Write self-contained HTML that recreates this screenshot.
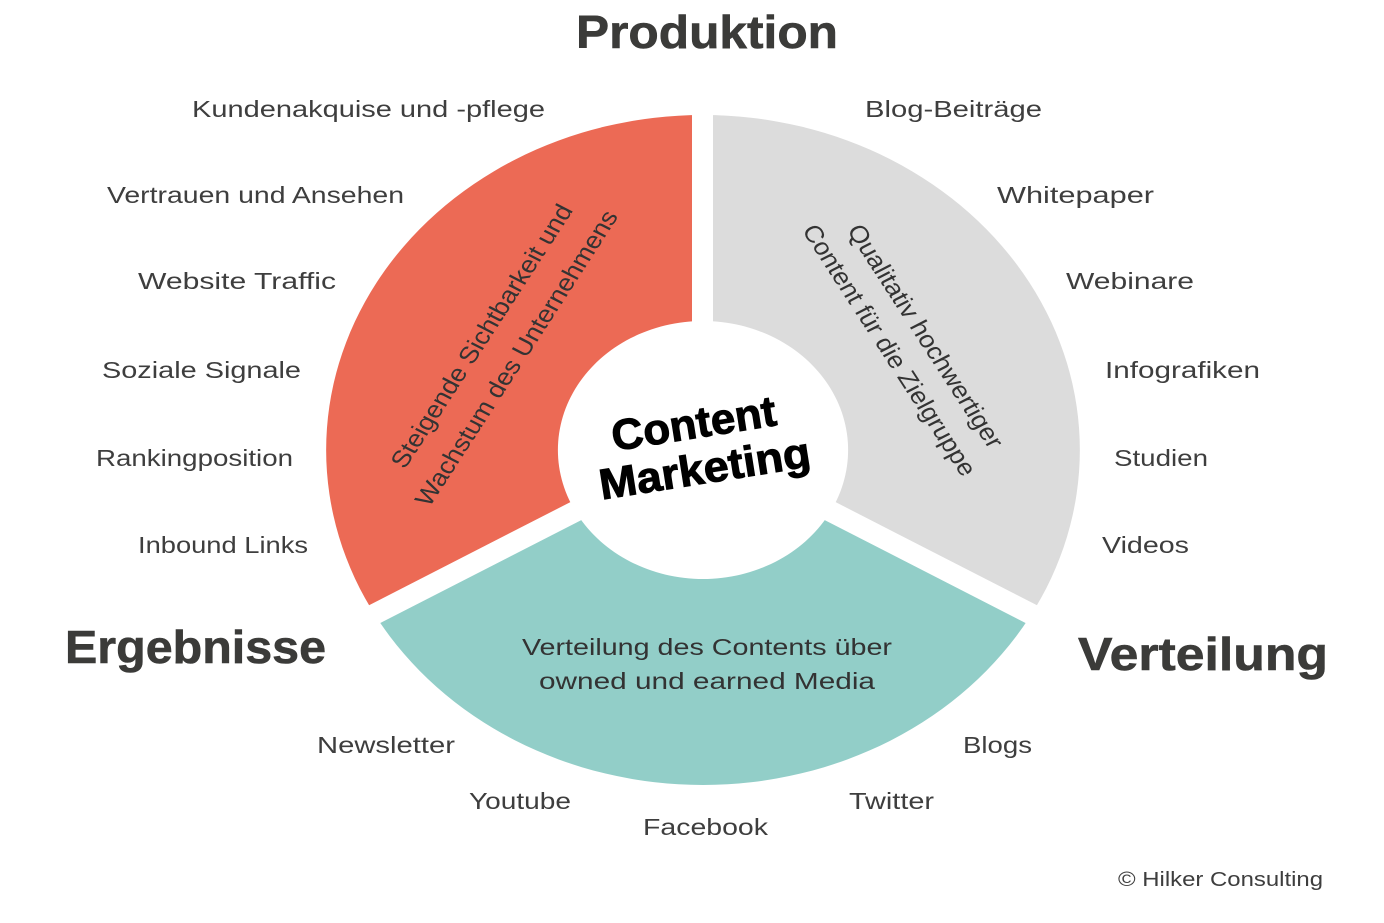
<!DOCTYPE html>
<html>
<head>
<meta charset="utf-8">
<style>
  html, body { margin: 0; padding: 0; background: #ffffff; }
  body { width: 1384px; height: 923px; overflow: hidden; }
  svg { display: block; }
  .lbl { font-family: "Liberation Sans", sans-serif; font-size: 23px; fill: #3e3e3e; }
  .ttl { font-family: "Liberation Sans", sans-serif; font-size: 46px; font-weight: bold; fill: #3b3b39; stroke: #3b3b39; stroke-width: 0.6px; }
  .inr { font-family: "Liberation Sans", sans-serif; font-size: 23px; fill: #333333; }
  .ctr { font-family: "Liberation Sans", sans-serif; font-size: 43px; font-weight: bold; fill: #000000; stroke: #000000; stroke-width: 1px; }
</style>
</head>
<body>
<svg width="1384" height="923" viewBox="0 0 1384 923" xmlns="http://www.w3.org/2000/svg">
  <rect x="0" y="0" width="1384" height="923" fill="#ffffff"/>

  <!-- Ring -->
  <g transform="translate(703,450) scale(1.125,1)">
    <path d="M 0,-335 A 335 335 0 0 0 -290.1,167.5 L -111.7,64.5 A 129 129 0 0 1 0,-129 Z" fill="#EC6A55"/>
    <path d="M 290.1,167.5 A 335 335 0 0 0 0,-335 L 0,-129 A 129 129 0 0 1 111.7,64.5 Z" fill="#DCDCDC"/>
    <path d="M -290.1,167.5 A 335 335 0 0 0 290.1,167.5 L 111.7,64.5 A 129 129 0 0 1 -111.7,64.5 Z" fill="#92CEC8"/>
  </g>

  <!-- Gaps -->
  <line x1="702.5" y1="90" x2="702.5" y2="450" stroke="#ffffff" stroke-width="21"/>
  <line x1="703" y1="446" x2="330" y2="637" stroke="#ffffff" stroke-width="21"/>
  <line x1="703" y1="446" x2="1076" y2="637" stroke="#ffffff" stroke-width="21"/>

  <!-- Rotated texts in segments -->
  <g transform="translate(703,450) scale(1.125,1)">
    <text class="inr" transform="translate(-197,-114) rotate(-60)" x="0" y="8" text-anchor="middle" textLength="300" lengthAdjust="spacingAndGlyphs">Steigende Sichtbarkeit und</text>
    <text class="inr" transform="translate(-166,-92) rotate(-60)" x="0" y="8" text-anchor="middle" textLength="337" lengthAdjust="spacingAndGlyphs">Wachstum des Unternehmens</text>
    <text class="inr" transform="translate(198,-114) rotate(60)" x="0" y="8" text-anchor="middle" textLength="254" lengthAdjust="spacingAndGlyphs">Qualitativ hochwertiger</text>
    <text class="inr" transform="translate(166,-100) rotate(60)" x="0" y="8" text-anchor="middle" textLength="286" lengthAdjust="spacingAndGlyphs">Content für die Zielgruppe</text>
  </g>

  <!-- Center text -->
  <text class="ctr" transform="translate(696,438) rotate(-9)" x="0" y="0" text-anchor="middle" textLength="166" lengthAdjust="spacingAndGlyphs">Content</text>
  <text class="ctr" transform="translate(707,483) rotate(-9)" x="0" y="0" text-anchor="middle" textLength="213" lengthAdjust="spacingAndGlyphs">Marketing</text>

  <!-- Teal text -->
  <text class="inr" x="522" y="655" textLength="370" lengthAdjust="spacingAndGlyphs">Verteilung des Contents über</text>
  <text class="inr" x="539" y="689" textLength="336" lengthAdjust="spacingAndGlyphs">owned und earned Media</text>

  <!-- Titles -->
  <text class="ttl" x="576" y="48" textLength="262" lengthAdjust="spacingAndGlyphs">Produktion</text>
  <text class="ttl" x="65" y="663" textLength="261" lengthAdjust="spacingAndGlyphs">Ergebnisse</text>
  <text class="ttl" x="1078" y="670" textLength="250" lengthAdjust="spacingAndGlyphs">Verteilung</text>

  <!-- Left labels -->
  <text class="lbl" x="192" y="117" textLength="353" lengthAdjust="spacingAndGlyphs">Kundenakquise und -pflege</text>
  <text class="lbl" x="107" y="203" textLength="297" lengthAdjust="spacingAndGlyphs">Vertrauen und Ansehen</text>
  <text class="lbl" x="138" y="289" textLength="198" lengthAdjust="spacingAndGlyphs">Website Traffic</text>
  <text class="lbl" x="102" y="378" textLength="199" lengthAdjust="spacingAndGlyphs">Soziale Signale</text>
  <text class="lbl" x="96" y="466" textLength="197" lengthAdjust="spacingAndGlyphs">Rankingposition</text>
  <text class="lbl" x="138" y="553" textLength="170" lengthAdjust="spacingAndGlyphs">Inbound Links</text>

  <!-- Right labels -->
  <text class="lbl" x="865" y="117" textLength="177" lengthAdjust="spacingAndGlyphs">Blog-Beiträge</text>
  <text class="lbl" x="997" y="203" textLength="157" lengthAdjust="spacingAndGlyphs">Whitepaper</text>
  <text class="lbl" x="1066" y="289" textLength="128" lengthAdjust="spacingAndGlyphs">Webinare</text>
  <text class="lbl" x="1105" y="378" textLength="155" lengthAdjust="spacingAndGlyphs">Infografiken</text>
  <text class="lbl" x="1114" y="466" textLength="94" lengthAdjust="spacingAndGlyphs">Studien</text>
  <text class="lbl" x="1102" y="553" textLength="87" lengthAdjust="spacingAndGlyphs">Videos</text>

  <!-- Bottom labels -->
  <text class="lbl" x="317" y="753" textLength="138" lengthAdjust="spacingAndGlyphs">Newsletter</text>
  <text class="lbl" x="469" y="809" textLength="102" lengthAdjust="spacingAndGlyphs">Youtube</text>
  <text class="lbl" x="643" y="835" textLength="125" lengthAdjust="spacingAndGlyphs">Facebook</text>
  <text class="lbl" x="849" y="809" textLength="85" lengthAdjust="spacingAndGlyphs">Twitter</text>
  <text class="lbl" x="963" y="753" textLength="69" lengthAdjust="spacingAndGlyphs">Blogs</text>

  <!-- Copyright -->
  <text class="lbl" x="1118" y="886" style="font-size:20px" textLength="205" lengthAdjust="spacingAndGlyphs">© Hilker Consulting</text>
</svg>
</body>
</html>
